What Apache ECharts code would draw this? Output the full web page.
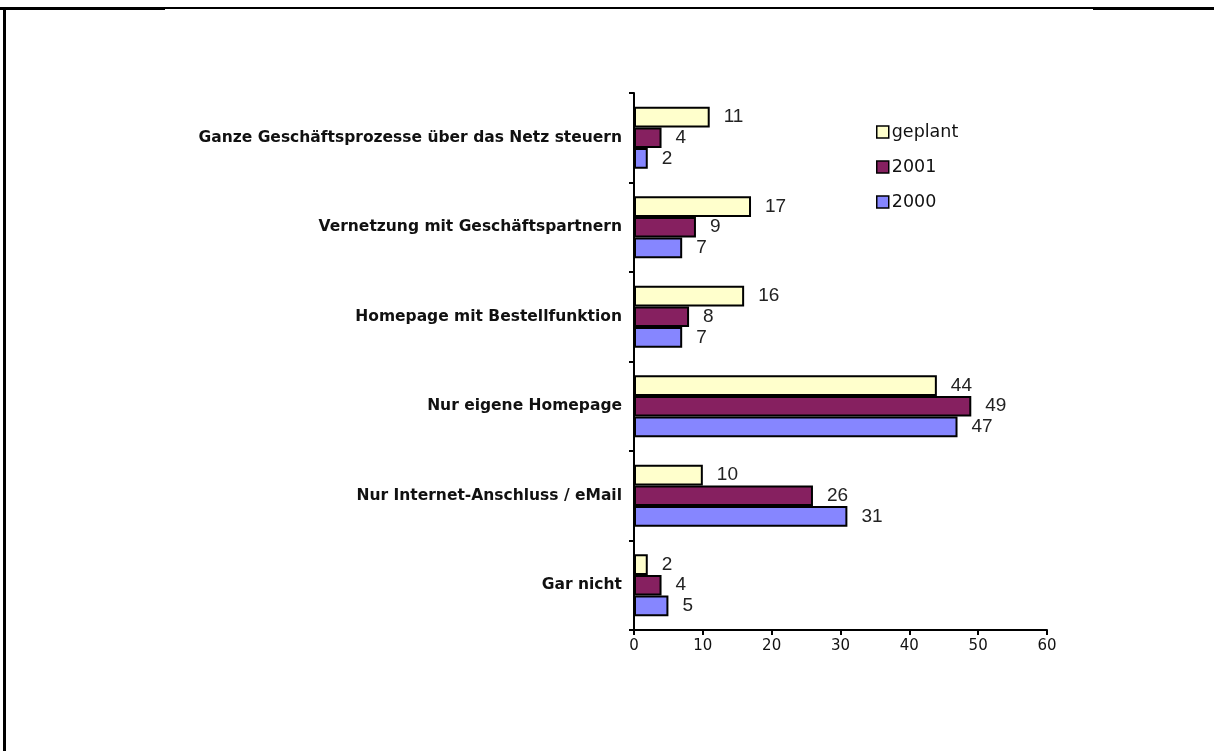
<!DOCTYPE html>
<html>
<head>
<meta charset="utf-8">
<script src="https://cdn.jsdelivr.net/npm/echarts@6/dist/echarts.min.js"></script>
<style>
  html, body { margin: 0; padding: 0; background: #fff; }
  #chart { width: 1214px; height: 751px; }
</style>
</head>
<body>
<div id="chart"></div>
<script>
// Categories from top to bottom
const categories = [
  'Ganze Geschäftsprozesse über das Netz steuern',
  'Vernetzung mit Geschäftspartnern',
  'Homepage mit Bestellfunktion',
  'Nur eigene Homepage',
  'Nur Internet-Anschluss / eMail',
  'Gar nicht'
];
const seriesNames = ['geplant', '2001', '2000'];
const geplant = [11, 17, 16, 44, 10, 2];
const y2001 = [4, 9, 8, 49, 26, 4];
const y2000 = [2, 7, 7, 47, 31, 5];
const xTicks = { min: 0, max: 60, interval: 10 };

const colors = ['#FFFFCC', '#862060', '#8686FF'];
const values = [geplant, y2001, y2000];

const chart = echarts.init(document.getElementById('chart'), null, { renderer: 'canvas' });

const font = 'DejaVu Sans';

chart.setOption({
  animation: false,
  backgroundColor: '#ffffff',
  grid: { left: 634, top: 93, width: 413, height: 537, containLabel: false },
  legend: {
    orient: 'vertical',
    left: 871,
    top: 117,
    itemWidth: 12,
    itemHeight: 12,
    itemGap: 15,
    icon: 'rect',
    data: seriesNames,
    itemStyle: { borderColor: '#000', borderWidth: 1.5 },
    textStyle: { fontFamily: font, fontSize: 17.5, color: '#111', lineHeight: 20, padding: [0, 0, 0, -2] }
  },
  xAxis: {
    type: 'value',
    min: xTicks.min,
    max: xTicks.max,
    interval: xTicks.interval,
    splitLine: { show: false },
    axisLine: { show: true, onZero: false, lineStyle: { color: '#000', width: 2 } },
    axisTick: { show: true, length: 5, lineStyle: { color: '#000', width: 2 } },
    axisLabel: { fontFamily: font, fontSize: 15, color: '#111', margin: 9 }
  },
  yAxis: {
    type: 'category',
    inverse: true,
    data: categories,
    axisLine: { show: true, lineStyle: { color: '#000', width: 2 } },
    axisTick: { show: true, length: 5, alignWithLabel: false, lineStyle: { color: '#000', width: 2 } },
    axisLabel: { fontFamily: font, fontSize: 15.5, fontWeight: 'bold', color: '#111', margin: 12 }
  },
  series: seriesNames.map((name, i) => ({
    name: name,
    type: 'bar',
    data: values[i],
    barGap: '0%',
    barCategoryGap: '31%',
    itemStyle: { color: colors[i], borderColor: '#000', borderWidth: 2 },
    label: {
      show: true,
      position: 'right',
      distance: 14,
      fontFamily: 'Liberation Sans',
      fontSize: 19,
      color: '#222'
    }
  }))
});

// Frame lines around the chart area
chart.setOption({
  graphic: [
    { type: 'rect', shape: { x: 3, y: 7, width: 3, height: 744 }, style: { fill: '#000' }, silent: true },
    { type: 'rect', shape: { x: 0, y: 7, width: 165, height: 3 }, style: { fill: '#000' }, silent: true },
    { type: 'rect', shape: { x: 165, y: 7, width: 928, height: 2 }, style: { fill: '#000' }, silent: true },
    { type: 'rect', shape: { x: 1093, y: 7, width: 121, height: 3 }, style: { fill: '#000' }, silent: true }
  ]
});
</script>
</body>
</html>
